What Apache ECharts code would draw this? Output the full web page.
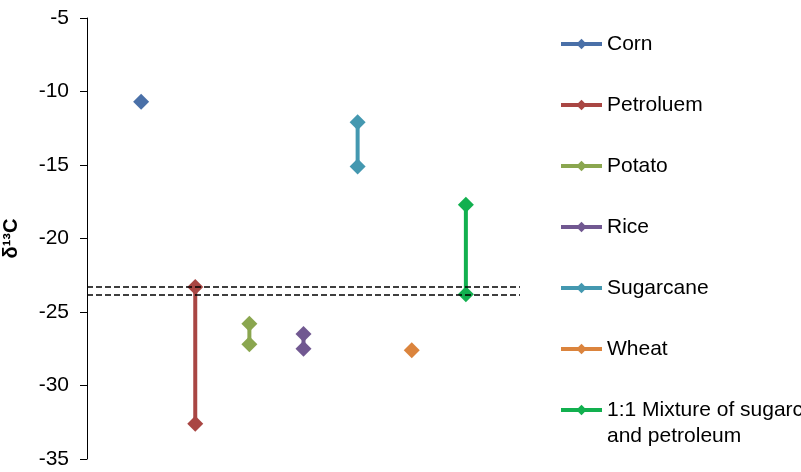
<!DOCTYPE html>
<html>
	<head>
		<meta charset="utf-8">
		<title>δ13C</title>
	</head>
	<body style="margin:0">
		<div id="main" style="width: 801px;height:472px;"></div>
	</body>
	<script src="https://cdn.jsdelivr.net/npm/echarts@6/dist/echarts.min.js"></script>
	<script type="text/javascript">
		'use strict'

		// 样品名称（图例）与各自的 x 位置
		var names = ['Corn', 'Petroluem', 'Potato', 'Rice', 'Sugarcane', 'Wheat', '1:1 Mixture of sugarcane and petroleum'];
		var positions = [1, 2, 3, 4, 5, 6, 7];
		var colors = ['#4a70a8', '#a94643', '#8aa64f', '#715891', '#4498b0', '#db843d', '#12b04f'];

		// δ13C 数值
		var corn = [-10.7];
		var petroleum = [-23.3, -32.6];
		var potato = [-25.8, -27.2];
		var rice = [-26.5, -27.5];
		var sugarcane = [-12.1, -15.1];
		var wheat = [-27.6];
		var mixture = [-17.7, -23.8];
		var values = [corn, petroleum, potato, rice, sugarcane, wheat, mixture];

		// 虚线参考线
		var refLines = [-23.3, -23.8];

		var series = names.map(function (name, i) {
			return {
				name: name,
				type: 'line',
				symbol: 'diamond',
				symbolSize: 16,
				color: colors[i],
				lineStyle: { width: 4 },
				animation: false,
				data: values[i].map(function (v) { return [positions[i], v]; })
			};
		});
		series.push({
			type: 'line',
			data: [],
			silent: true,
			animation: false,
			markLine: {
				symbol: 'none',
				silent: true,
				label: { show: false },
				lineStyle: { color: '#000', type: [6, 3], width: 1.5 },
				data: refLines.map(function (v) { return { yAxis: v }; })
			}
		});

		var lastName = names[names.length - 1];
		var legendBase = {
			orient: 'vertical',
			left: 554,
			itemWidth: 41,
			itemHeight: 13,
			itemGap: 35,
			lineStyle: { width: 4 },
			textStyle: { fontSize: 21, color: '#000', fontFamily: 'Liberation Sans', lineHeight: 26 }
		};

		var myChart = echarts.init(document.getElementById('main'));
		var option = {
			grid: { left: 87, right: 281, top: 18, bottom: 13, outerBoundsMode: 'none' },
			legend: [
				Object.assign({}, legendBase, {
					top: 26,
					data: names.slice(0, names.length - 1)
				}),
				// 最后一项文字为两行，单独放一个图例；首行留空让文字第一行对齐图标
				Object.assign({}, legendBase, {
					top: 366,
					formatter: function () { return '\n1:1 Mixture of sugarcane\nand petroleum'; },
					data: [lastName]
				})
			],
			xAxis: {
				type: 'value',
				min: 0,
				max: 8,
				show: false
			},
			yAxis: {
				type: 'value',
				min: -35,
				max: -5,
				interval: 5,
				name: 'δ¹³C',
				nameLocation: 'middle',
				nameGap: 66,
				nameTextStyle: { fontSize: 20, fontWeight: 'bold', color: '#000', fontFamily: 'Liberation Sans' },
				axisLine: { show: true, lineStyle: { color: '#000', width: 1 } },
				axisTick: { show: true, length: 7, lineStyle: { color: '#000' } },
				axisLabel: { fontSize: 21, color: '#000', margin: 18, fontFamily: 'Liberation Sans' },
				splitLine: { show: false }
			},
			series: series
		};
		myChart.setOption(option);
	</script>
</html>
